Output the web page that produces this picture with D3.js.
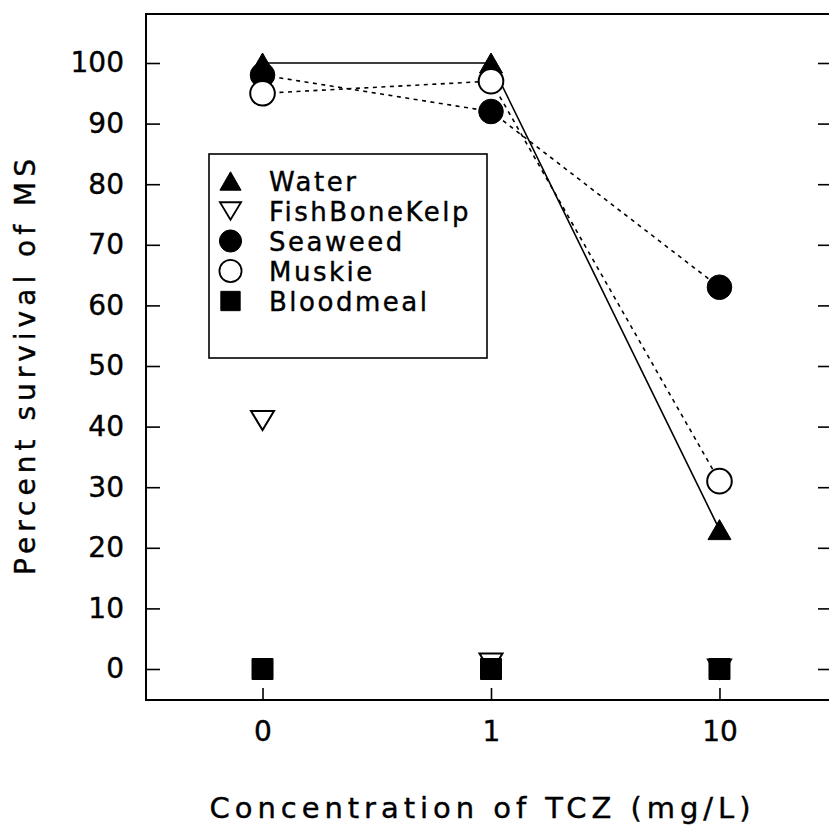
<!DOCTYPE html>
<html>
<head>
<meta charset="utf-8">
<script src="https://cdn.jsdelivr.net/npm/d3@7"></script>
<style>
  html, body { margin: 0; padding: 0; background: #fff; }
  svg { display: block; font-family: "DejaVu Sans", sans-serif; }
  svg text { stroke: #000; stroke-width: 0.4px; }
</style>
</head>
<body>
<svg id="chart" width="829" height="831"></svg>
<script>
// Survival of MS at three TCZ concentrations, one series per treatment
const categories = ["0", "1", "10"];
const yTickValues = [0, 10, 20, 30, 40, 50, 60, 70, 80, 90, 100];
const water = [100, 100, 23];
const fishBoneKelp = [41, 1, 0];
const seaweed = [98, 92, 63];
const muskie = [95, 97, 31];
const bloodmeal = [0, 0, 0];

const seriesNames = ["Water", "FishBoneKelp", "Seaweed", "Muskie", "Bloodmeal"];
const seriesValues = [water, fishBoneKelp, seaweed, muskie, bloodmeal];

// marker shape, fill and connecting line per series
const styles = {
  Water:        { shape: "triangle", fill: "#000", line: "solid" },
  FishBoneKelp: { shape: "invtriangle", fill: "#fff", line: null },
  Seaweed:      { shape: "circle", fill: "#000", line: "dashed" },
  Muskie:       { shape: "circle", fill: "#fff", line: "dashed" },
  Bloodmeal:    { shape: "square", fill: "#000", line: null }
};

// the frame's right edge runs just past the page edge
const frame = { left: 146, top: 14, right: 833, bottom: 700 };
const svg = d3.select("#chart");

const x = d3.scalePoint().domain(categories).range([frame.left, 836]).padding(0.51);
const y = d3.scaleLinear().domain([0, 100]).range([669, 63]);

// marker path builders, centred on the origin
function markerPath(shape, s) {
  const p = d3.path();
  if (shape === "triangle") {
    const w = 23 * s, h = 20 * s;
    p.moveTo(0, -h / 2); p.lineTo(w / 2, h / 2); p.lineTo(-w / 2, h / 2); p.closePath();
  } else if (shape === "invtriangle") {
    const w = 23 * s, h = 19 * s;
    p.moveTo(-w / 2, -h / 2); p.lineTo(w / 2, -h / 2); p.lineTo(0, h / 2); p.closePath();
  } else if (shape === "circle") {
    const r = 12.3 * s;
    p.arc(0, 0, r, 0, 2 * Math.PI);
  } else {
    const a = 21 * s;
    p.rect(-a / 2, -a / 2, a, a);
  }
  return p.toString();
}

// axes: inward ticks on left, right and bottom
const left = svg.append("g")
  .attr("transform", `translate(${frame.left},0)`)
  .call(d3.axisLeft(y).tickValues(yTickValues).tickSize(-14).tickPadding(22));
const right = svg.append("g")
  .attr("transform", `translate(${frame.right},0)`)
  .call(d3.axisRight(y).tickValues(yTickValues).tickSize(-15).tickFormat(""));
const bottom = svg.append("g")
  .attr("transform", `translate(0,${frame.bottom})`)
  .call(d3.axisBottom(x).tickSize(-12).tickPadding(21));

[left, right, bottom].forEach(g => {
  g.select(".domain").remove();
  g.attr("font-family", null).attr("font-size", null);
  g.selectAll(".tick line").attr("stroke", "#000").attr("stroke-width", 1.6);
  g.selectAll(".tick text").attr("fill", "#000").attr("font-size", 28);
});

// plot frame
svg.append("rect")
  .attr("x", frame.left).attr("y", frame.top)
  .attr("width", frame.right - frame.left).attr("height", frame.bottom - frame.top)
  .attr("fill", "none").attr("stroke", "#000").attr("stroke-width", 2);

// connecting lines
const line = d3.line().x((d, i) => x(categories[i])).y(d => y(d));
seriesNames.forEach((name, k) => {
  const st = styles[name];
  if (!st.line) return;
  svg.append("path")
    .attr("d", line(seriesValues[k]))
    .attr("fill", "none")
    .attr("stroke", "#000")
    .attr("stroke-width", 1.6)
    .attr("stroke-dasharray", st.line === "dashed" ? "4,4.5" : null);
});

// markers
seriesNames.forEach((name, k) => {
  const st = styles[name];
  svg.append("g").selectAll("path")
    .data(seriesValues[k])
    .join("path")
    .attr("transform", (d, i) => `translate(${x(categories[i])},${y(d)})`)
    .attr("d", markerPath(st.shape, 1))
    .attr("fill", st.fill)
    .attr("stroke", "#000")
    .attr("stroke-width", st.fill === "#fff" ? 2 : 1);
});

// legend
const legend = svg.append("g");
legend.append("rect")
  .attr("x", 209).attr("y", 154).attr("width", 278).attr("height", 204)
  .attr("fill", "#fff").attr("stroke", "#000").attr("stroke-width", 1.6);
seriesNames.forEach((name, k) => {
  const st = styles[name];
  const cy = 181 + k * 30;
  legend.append("path")
    .attr("transform", `translate(230.5,${cy})`)
    .attr("d", markerPath(st.shape, st.shape === "circle" ? 0.9 : 0.92))
    .attr("fill", st.fill)
    .attr("stroke", "#000")
    .attr("stroke-width", st.fill === "#fff" ? 1.8 : 1);
  legend.append("text")
    .attr("x", 269).attr("y", cy + 9.5)
    .attr("font-size", 26)
    .attr("letter-spacing", 2.5)
    .attr("fill", "#000")
    .text(name);
});

// axis titles
svg.append("text")
  .attr("x", 480).attr("y", 818)
  .attr("text-anchor", "middle")
  .attr("font-size", 29)
  .attr("textLength", 541).attr("lengthAdjust", "spacing")
  .attr("fill", "#000")
  .text("Concentration of TCZ (mg/L)");

svg.append("text")
  .attr("transform", "translate(35,367) rotate(-90)")
  .attr("text-anchor", "middle")
  .attr("font-size", 28)
  .attr("textLength", 416).attr("lengthAdjust", "spacing")
  .attr("fill", "#000")
  .text("Percent survival of MS");
</script>
</body>
</html>
